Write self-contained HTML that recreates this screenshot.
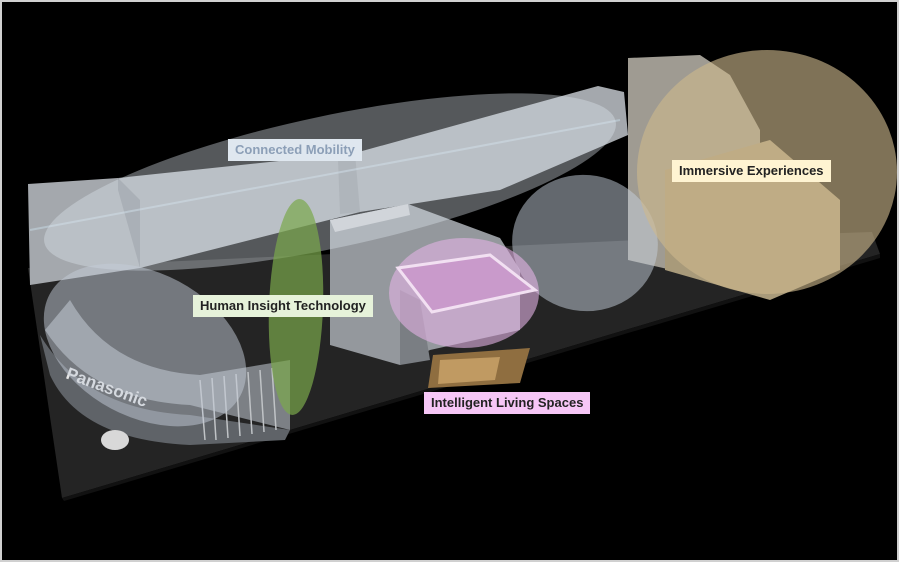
<!DOCTYPE html>
<html><head><meta charset="utf-8"><style>
html,body{margin:0;padding:0;background:#000;}
.wrap{position:relative;width:899px;height:562px;overflow:hidden;background:#000;}
svg{position:absolute;left:0;top:0;}
.lb{position:absolute;font-family:"Liberation Sans",sans-serif;font-weight:bold;font-size:13px;line-height:22px;padding:0 7px;white-space:nowrap;}
</style></head><body><div class="wrap">
<svg width="899" height="562" viewBox="0 0 899 562">
<rect x="1" y="1" width="897" height="560" fill="none" stroke="#d0d0d0" stroke-width="2"/>
<!-- floor -->
<polygon points="62,498 28,268 640,240 872,232 880,254" fill="#242424"/>
<polygon points="62,498 880,254 880,258 64,501" fill="#111"/>
<!-- back wall -->
<polygon points="28,184 118,178 355,153 598,86 624,92 628,135 500,190 360,212 140,268 30,285" fill="#a4a8ad"/>
<polygon points="118,178 118,190 140,268 140,200" fill="#8a8f95"/>
<polygon points="355,153 360,212 340,214 338,160" fill="#92979c"/>
<line x1="30" y1="230" x2="620" y2="120" stroke="#c8dce8" stroke-width="2" opacity=".5"/>
<!-- right box behind -->
<polygon points="628,58 700,55 730,75 760,130 760,290 628,260" fill="#9f9b92"/>
<!-- center structure -->
<polygon points="330,220 408,204 500,238 520,270 520,330 430,350 400,365 330,345" fill="#94989d"/>
<polygon points="330,220 408,204 410,215 335,232" fill="#c8cacd"/>
<polygon points="400,290 420,300 430,360 400,365" fill="#7a7e83"/>
<!-- warm lit area -->
<polygon points="433,355 530,348 520,383 428,388" fill="#8f6e40"/>
<polygon points="440,360 500,357 495,380 438,384" fill="#c09a62"/>
<!-- Panasonic curved front -->
<path d="M45,330 Q90,400 190,405 L290,430 L290,360 L200,375 Q110,370 70,300 Z" fill="#7c8085"/>
<path d="M40,335 Q85,410 190,415 L290,430 L285,440 L190,445 Q80,440 50,375 Z" fill="#5f6368"/>
<g stroke="#c0c3c6" stroke-width="1.5">
<line x1="200" y1="380" x2="205" y2="440"/><line x1="212" y1="378" x2="216" y2="440"/><line x1="224" y1="376" x2="228" y2="438"/><line x1="236" y1="374" x2="240" y2="436"/><line x1="248" y1="372" x2="252" y2="434"/><line x1="260" y1="370" x2="264" y2="432"/><line x1="272" y1="368" x2="276" y2="430"/>
</g>
<text x="65" y="378" font-family="Liberation Sans,sans-serif" font-weight="bold" font-size="17" fill="#e6e6e6" transform="rotate(20 65 378)">Panasonic</text>
<ellipse cx="115" cy="440" rx="14" ry="10" fill="#d8d8d8"/>
<!-- overlays -->
<ellipse cx="330" cy="182" rx="292" ry="66" transform="rotate(-12 330 182)" fill="#dfe7ef" opacity=".38"/>
<ellipse cx="145" cy="345" rx="108" ry="72" transform="rotate(28 145 345)" fill="#c3ccd8" opacity=".5"/>
<ellipse cx="585" cy="243" rx="73" ry="68" transform="rotate(10 585 243)" fill="#c6cfdb" opacity=".5"/>
<polygon points="665,170 770,140 840,200 840,270 770,300 665,270" fill="#a89a7a"/>
<ellipse cx="767" cy="172" rx="130" ry="122" fill="#cdb88c" opacity=".62"/>
<ellipse cx="464" cy="293" rx="75" ry="55" fill="#e2b3e4" opacity=".6"/>
<polygon points="398,268 490,255 535,290 432,312" fill="#c99acb" stroke="#f2e0f2" stroke-width="3"/>
<ellipse cx="296" cy="307" rx="27" ry="108" transform="rotate(2 296 307)" fill="#7aa84c" opacity=".7"/>
</svg>
<div class="lb" style="left:228px;top:139px;background:#dfe7ef;color:#8c9fb7;">Connected Mobility</div>
<div class="lb" style="left:672px;top:160px;background:#fff4d2;color:#222;">Immersive Experiences</div>
<div class="lb" style="left:193px;top:295px;background:#e6f2da;color:#222;">Human Insight Technology</div>
<div class="lb" style="left:424px;top:392px;background:#f6c6f6;color:#222;">Intelligent Living Spaces</div>
</div></body></html>
